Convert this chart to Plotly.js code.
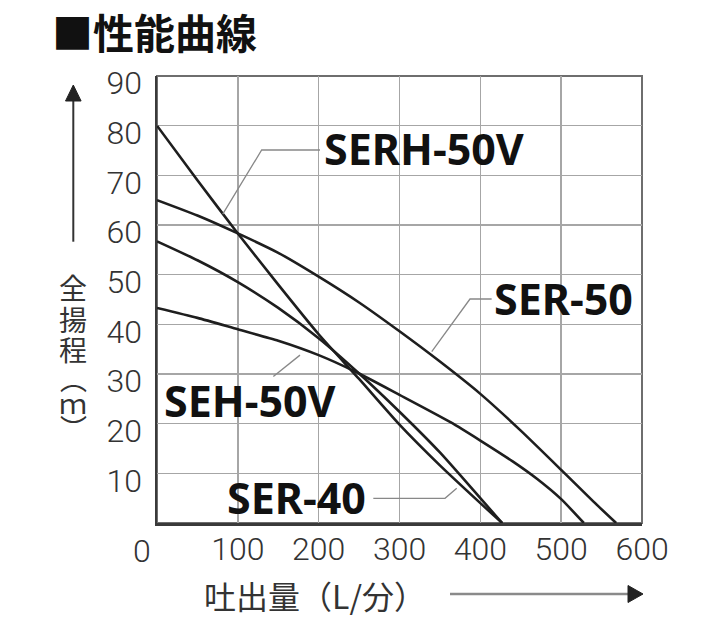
<!DOCTYPE html>
<html>
<head>
<meta charset="utf-8">
<script src="https://cdn.plot.ly/plotly-3.0.1.min.js"></script>
<style>html,body{margin:0;padding:0;background:#fff;}#chart{width:720px;height:637px;}</style>
</head>
<body>
<div id="chart"></div>
<script>
// ---- data (flow L/min, total head m) ----
const serh50vFlow = [0, 50, 100, 150, 200, 250, 300, 350, 400, 427];
const serh50vHead = [80, 69, 58.3, 48, 38, 29, 19.8, 11.6, 4, 0];

const ser40Flow = [0, 50, 100, 150, 200, 250, 300, 350, 400, 427];
const ser40Head = [56.7, 52.9, 48.5, 43.3, 37.2, 30.1, 22.4, 14.2, 5, 0];

const ser50Flow = [0, 50, 100, 150, 200, 250, 300, 350, 400, 450, 500, 540, 568];
const ser50Head = [65, 61.9, 58.3, 54.4, 49.6, 44.4, 38.6, 32.5, 26, 18.6, 10.7, 4.3, 0];

const seh50vFlow = [0, 50, 100, 150, 200, 245, 300, 363, 400, 440, 470, 500, 528];
const seh50vHead = [43.3, 41.3, 39, 36.7, 33.8, 30.5, 25.8, 20.3, 16.6, 12.4, 8.9, 4.8, 0];

const seriesNames = ['SERH-50V', 'SER-40', 'SER-50', 'SEH-50V'];
const xTickVals = [0, 100, 200, 300, 400, 500, 600];
const xTickText = ['', '100', '200', '300', '400', '500', '600'];
const yTickVals = [10, 20, 30, 40, 50, 60, 70, 80, 90];
const yTickText = ['10', '20', '30', '40', '50', '60', '70', '80', '90'];
const originLabel = '0';
const chartTitle = '■性能曲線';
const xTitle = '吐出量（L/分）';
const yTitleChars = ['全', '揚', '程', '︵', 'ｍ', '︶'];

// ---- layout helpers ----
const W = 720, H = 637;
const M = {l: 157, r: 78, t: 76, b: 114};
const PW = W - M.l - M.r, PH = H - M.t - M.b;
function px(x) { return (x - M.l) / PW; }
function py(y) { return (H - M.b - y) / PH; }

const lineStyle = {color: '#1e1e1e', width: 2.6};
const traces = [
  {x: serh50vFlow, y: serh50vHead, name: seriesNames[0]},
  {x: ser40Flow, y: ser40Head, name: seriesNames[1]},
  {x: ser50Flow, y: ser50Head, name: seriesNames[2]},
  {x: seh50vFlow, y: seh50vHead, name: seriesNames[3]}
].map(t => Object.assign(t, {type: 'scatter', mode: 'lines', line: Object.assign({shape: 'spline', smoothing: 0.6}, lineStyle), hoverinfo: 'skip'}));

const labelFont = {family: 'Noto Sans, Open Sans, sans-serif', size: 43, color: '#111', weight: 700};
const cjkFont = {family: 'Noto Sans CJK JP, sans-serif', size: 32, color: '#333'};

const annotations = [
  {text: chartTitle, xref: 'paper', yref: 'paper', x: px(50), y: py(31), xanchor: 'left', yanchor: 'middle', showarrow: false,
   font: {family: 'Noto Sans CJK JP, sans-serif', size: 41, color: '#111', weight: 700}},
  {text: seriesNames[0], xref: 'paper', yref: 'paper', x: px(322), y: py(148), xanchor: 'left', yanchor: 'middle', showarrow: false, font: labelFont},
  {text: seriesNames[2], xref: 'paper', yref: 'paper', x: px(492), y: py(298), xanchor: 'left', yanchor: 'middle', showarrow: false, font: labelFont},
  {text: seriesNames[3], xref: 'paper', yref: 'paper', x: px(162), y: py(400), xanchor: 'left', yanchor: 'middle', showarrow: false, font: labelFont},
  {text: seriesNames[1], xref: 'paper', yref: 'paper', x: px(225), y: py(497), xanchor: 'left', yanchor: 'middle', showarrow: false, font: labelFont},
  {text: originLabel, xref: 'paper', yref: 'paper', x: px(142), y: py(551), xanchor: 'center', yanchor: 'middle', showarrow: false,
   font: {family: 'Roboto, sans-serif', size: 32, color: '#333', weight: 300}},
  {text: xTitle, xref: 'paper', yref: 'paper', x: px(202), y: py(595), xanchor: 'left', yanchor: 'middle', showarrow: false, font: cjkFont}
];
// vertical y title: upright characters stacked
const yCharPos = [286.5, 318.5, 348.5, 378, 401.5, 427.5];
const yCharSize = [28, 28, 28, 27, 28, 27];
yTitleChars.forEach((c, i) => annotations.push({
  text: c, xref: 'paper', yref: 'paper', x: px(73), y: py(yCharPos[i]), xanchor: 'center', yanchor: 'middle', showarrow: false,
  font: {family: 'Noto Sans CJK JP, sans-serif', size: yCharSize[i], color: '#333'}
}));

const leader = {color: '#888', width: 1.3};
const shapes = [
  // frame (top/right)
  {type: 'rect', xref: 'paper', yref: 'paper', x0: 0, x1: 1, y0: 0, y1: 1, line: {color: '#6e6e6e', width: 2}, layer: 'between'},
  // leader lines (data coords)
  {type: 'path', xref: 'x', yref: 'y', path: 'M201.7,75.1 L129.5,75.1 L81.3,62.2', line: leader},
  {type: 'path', xref: 'x', yref: 'y', path: 'M414,45.1 L387.2,45.1 L339.9,34.5', line: leader},
  {type: 'path', xref: 'x', yref: 'y', path: 'M143.9,29.5 L176.9,33.8', line: leader},
  {type: 'path', xref: 'x', yref: 'y', path: 'M267.6,4.97 L356.3,4.97 L370.8,6.99', line: leader},
  // y arrow
  {type: 'line', xref: 'paper', yref: 'paper', x0: px(73.3), x1: px(73.3), y0: py(241.7), y1: py(99), line: {color: '#333', width: 2}},
  {type: 'path', xref: 'paper', yref: 'paper', path: `M${px(73.3)},${py(85)} L${px(65.5)},${py(101)} L${px(81.1)},${py(101)} Z`, fillcolor: '#222', line: {color: '#222', width: 1}},
  // x arrow
  {type: 'line', xref: 'paper', yref: 'paper', x0: px(450), x1: px(630), y0: py(594), y1: py(594), line: {color: '#8a8a8a', width: 2.5}},
  {type: 'path', xref: 'paper', yref: 'paper', path: `M${px(643)},${py(594)} L${px(628)},${py(585.5)} L${px(628)},${py(602.5)} Z`, fillcolor: '#222', line: {color: '#222', width: 1}}
];

const tickFont = {family: 'Roboto, sans-serif', size: 32, color: '#333', weight: 300};
const layout = {
  width: W, height: H,
  margin: M,
  paper_bgcolor: '#fff', plot_bgcolor: '#fff',
  showlegend: false,
  xaxis: {range: [0, 600], tickvals: xTickVals, ticktext: xTickText, showgrid: true, gridcolor: '#a6a6a6', gridwidth: 1.6,
    zeroline: false, showline: true, linecolor: '#3a3a3a', linewidth: 2.5, ticks: '', tickfont: tickFont, ticklabelstandoff: -4, fixedrange: true},
  yaxis: {range: [0, 90], tickvals: yTickVals, ticktext: yTickText, showgrid: true, gridcolor: '#a6a6a6', gridwidth: 1.6,
    zeroline: false, showline: true, linecolor: '#3a3a3a', linewidth: 2.5, ticks: '', tickfont: tickFont, ticklabelstandoff: 6, ticklabelshift: 7, fixedrange: true},
  annotations: annotations,
  shapes: shapes
};

Plotly.newPlot('chart', traces, layout, {displayModeBar: false, staticPlot: true});
</script>
</body>
</html>
